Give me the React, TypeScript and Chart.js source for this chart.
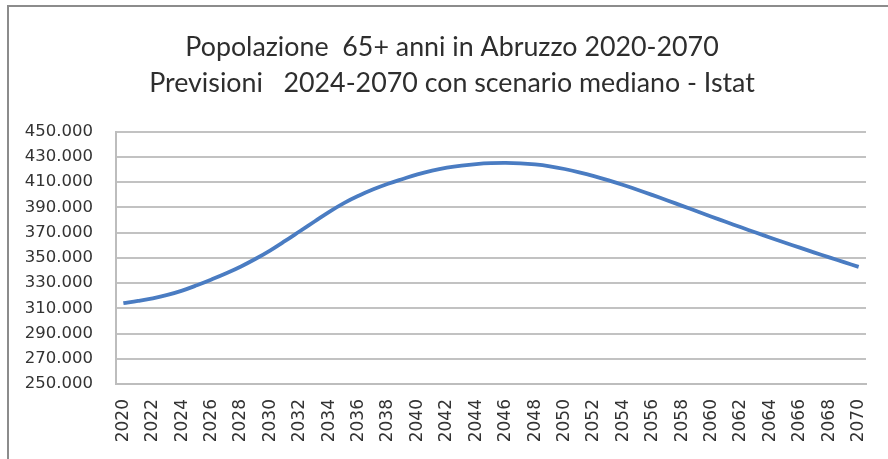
import React, { useEffect, useRef } from "react";
import { Chart, registerables } from "chart.js";

Chart.register(...registerables);

const titleLines = [
  "Popolazione  65+ anni in Abruzzo 2020-2070",
  "Previsioni   2024-2070 con scenario mediano - Istat",
];

const years = [
  2020, 2021, 2022, 2023, 2024, 2025, 2026, 2027, 2028, 2029,
  2030, 2031, 2032, 2033, 2034, 2035, 2036, 2037, 2038, 2039,
  2040, 2041, 2042, 2043, 2044, 2045, 2046, 2047, 2048, 2049,
  2050, 2051, 2052, 2053, 2054, 2055, 2056, 2057, 2058, 2059,
  2060, 2061, 2062, 2063, 2064, 2065, 2066, 2067, 2068, 2069,
  2070,
];

const population = [
  314000, 315800, 317900, 320600, 324000, 328200, 332800, 337700, 343100, 349200,
  355900, 363300, 371000, 378700, 386400, 393300, 399100, 404200, 408600, 412400,
  416000, 419000, 421300, 423000, 424200, 424900, 425100, 424800, 423900, 422400,
  420300, 417700, 414700, 411300, 407600, 403700, 399600, 395400, 391100, 386800,
  382500, 378300, 374100, 370000, 365900, 361900, 358000, 354100, 350300, 346500,
  342800,
];

const yMin = 250000;
const yMax = 450000;
const yStep = 20000;

function formatIt(v: number): string {
  return String(Math.round(v)).replace(/\B(?=(\d{3})+(?!\d))/g, ".");
}

// Shift the centring box of the title so it is centred over the whole chart frame
const titleShift = {
  id: "titleShift",
  afterLayout(chart: any) {
    if (chart.titleBlock) {
      chart.titleBlock.left = 38;
    }
  },
};

export default function App() {
  const ref = useRef<HTMLCanvasElement>(null);

  useEffect(() => {
    if (!ref.current) return;
    const chart = new Chart(ref.current, {
      type: "line",
      data: {
        labels: years.map(String),
        datasets: [
          {
            data: population,
            borderColor: "#4a7cc2",
            borderWidth: 3.8,
            pointRadius: 0,
            tension: 0.4,
            fill: false,
          },
        ],
      },
      options: {
        animation: false,
        responsive: false,
        maintainAspectRatio: false,
        devicePixelRatio: 1,
        layout: { padding: { left: 0, right: 40, top: 0, bottom: 0 } },
        plugins: {
          legend: { display: false },
          tooltip: { enabled: false },
          title: {
            display: true,
            text: titleLines,
            color: "#2e2e2e",
            font: { family: "Lato", size: 26.8, weight: "normal", lineHeight: 36 / 26.8 },
            padding: { top: 29, bottom: 30.5 },
          },
        },
        scales: {
          x: {
            offset: true,
            grid: { display: false, drawTicks: false },
            border: { display: true, color: "#bdbdbd", width: 2 },
            ticks: {
              autoSkip: false,
              maxRotation: 90,
              minRotation: 90,
              padding: 15,
              color: "#333333",
              font: { family: "DejaVu Sans", size: 17 },
              callback: (_v: any, i: number) => (i % 2 === 0 ? String(years[i]) : ""),
            },
            afterFit: (s: any) => {
              s.height = 75;
            },
          },
          y: {
            min: yMin,
            max: yMax,
            grid: { color: "#c2c2c2", lineWidth: 2, drawTicks: false },
            border: { display: true, color: "#bdbdbd", width: 2 },
            ticks: {
              stepSize: yStep,
              padding: 23,
              color: "#333333",
              font: { family: "DejaVu Sans", size: 16.5 },
              callback: (v: any) => formatIt(Number(v)),
            },
            afterFit: (s: any) => {
              s.width = 116;
            },
          },
        },
      },
      plugins: [titleShift],
    } as any);
    return () => chart.destroy();
  }, []);

  return (
    <div
      style={{
        position: "fixed",
        left: 0,
        top: 0,
        width: 888,
        height: 459,
        overflow: "hidden",
        background: "#ffffff",
      }}
    >
      <div
        style={{
          position: "absolute",
          left: 7,
          top: 5,
          width: 1000,
          height: 1000,
          border: "2px solid #8c8c8c",
          boxSizing: "border-box",
        }}
      />
      <canvas
        ref={ref}
        width={906}
        height={459}
        style={{ position: "absolute", left: 0, top: 0 }}
      />
    </div>
  );
}
